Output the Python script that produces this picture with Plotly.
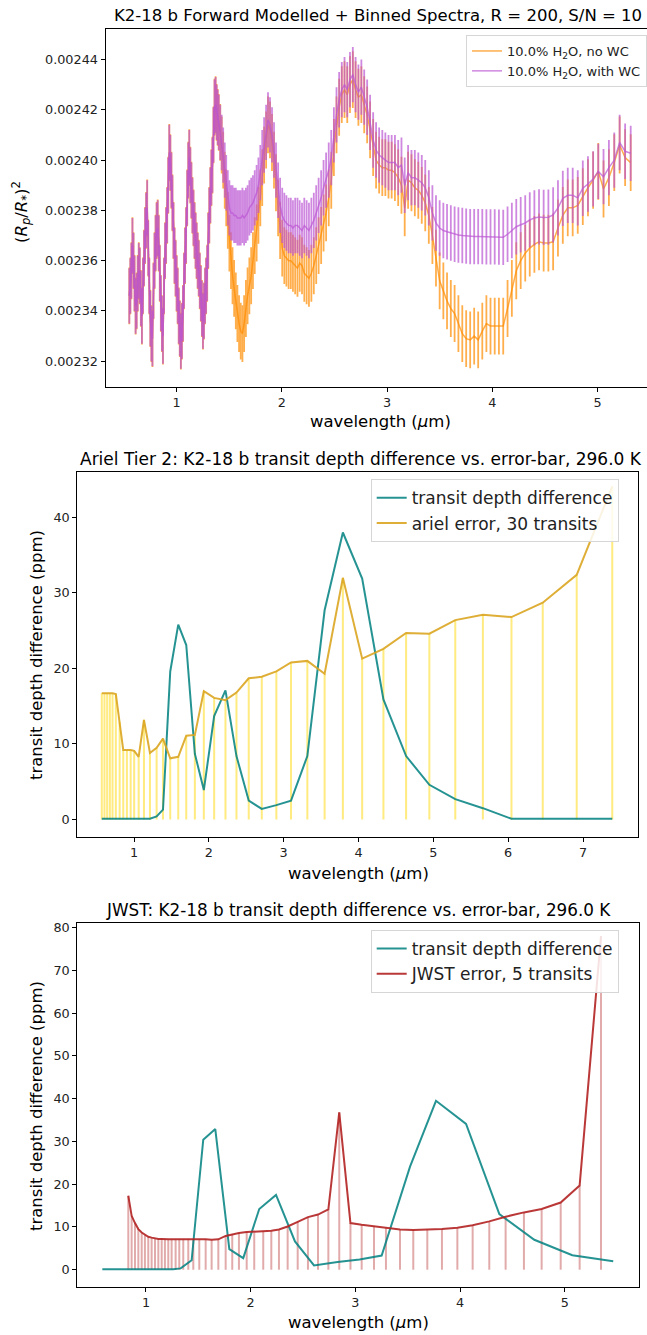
import plotly.graph_objects as go

W, H = 647, 1335

# ---------------- Top panel: forward-modelled binned spectra ----------------
# short-wavelength part (both models coincide), depth in units of 1e-6
wl_short = [0.55, 0.56, 0.57, 0.58, 0.59, 0.60, 0.61, 0.62, 0.63, 0.64,
            0.65, 0.66, 0.67, 0.68, 0.69, 0.70, 0.71, 0.72, 0.73, 0.74,
            0.75, 0.76, 0.77, 0.78, 0.79, 0.80, 0.81, 0.82, 0.83, 0.84,
            0.85, 0.86, 0.87, 0.88, 0.89, 0.90, 0.91, 0.92, 0.93, 0.94,
            0.95, 0.96, 0.97, 0.98, 0.99, 1.00, 1.01, 1.02, 1.03, 1.04,
            1.05, 1.06, 1.07, 1.08, 1.09, 1.10, 1.11, 1.12, 1.13, 1.14,
            1.15, 1.16, 1.17, 1.18, 1.19, 1.20, 1.21, 1.22, 1.23, 1.24,
            1.25, 1.26, 1.27, 1.28, 1.29, 1.30, 1.31, 1.32, 1.33, 1.34,
            1.35, 1.36, 1.37, 1.38, 1.39, 1.40]
depth_short = [2346, 2350, 2356, 2366, 2360, 2351, 2342, 2344, 2351, 2356,
               2354, 2345, 2338, 2350, 2361, 2370, 2376, 2381, 2365, 2350,
               2337, 2331, 2329, 2348, 2360, 2367, 2372, 2373, 2367, 2355,
               2343, 2335, 2330, 2350, 2364, 2370, 2378, 2390, 2403, 2399,
               2392, 2383, 2372, 2362, 2357, 2351, 2346, 2338, 2333, 2328,
               2332, 2339, 2352, 2362, 2370, 2385, 2396, 2401, 2394, 2388,
               2382, 2377, 2372, 2368, 2364, 2360, 2357, 2352, 2347, 2341,
               2336, 2340, 2346, 2350, 2355, 2368, 2378, 2386, 2393, 2398,
               2410, 2421, 2422, 2419, 2417, 2415]

wl_long = [1.414, 1.428, 1.442, 1.457, 1.471, 1.486, 1.501, 1.516, 1.531, 1.546,
           1.562, 1.577, 1.593, 1.609, 1.625, 1.641, 1.658, 1.674, 1.691, 1.708,
           1.725, 1.742, 1.760, 1.777, 1.795, 1.813, 1.831, 1.850, 1.868, 1.887,
           1.906, 1.925, 1.944, 1.964, 1.983, 2.003, 2.023, 2.043, 2.064, 2.085,
           2.105, 2.126, 2.148, 2.169, 2.191, 2.213, 2.235, 2.257, 2.280, 2.303,
           2.326, 2.349, 2.373, 2.396, 2.420, 2.445, 2.469, 2.494, 2.519, 2.544,
           2.569, 2.595, 2.621, 2.647, 2.674, 2.700, 2.727, 2.755, 2.782, 2.810,
           2.838, 2.867, 2.895, 2.924, 2.954, 2.983, 3.013, 3.043, 3.074, 3.105,
           3.136, 3.167, 3.199, 3.231, 3.263, 3.296, 3.329, 3.362, 3.396, 3.430,
           3.464, 3.499, 3.534, 3.569, 3.605, 3.641, 3.677, 3.714, 3.751, 3.789,
           3.827, 3.865, 3.904, 3.943, 3.982, 4.022, 4.062, 4.103, 4.144, 4.185,
           4.227, 4.269, 4.312, 4.355, 4.399, 4.443, 4.487, 4.532, 4.577, 4.623,
           4.669, 4.716, 4.763, 4.811, 4.859, 4.908, 4.957, 5.006, 5.056, 5.107,
           5.158, 5.209, 5.261, 5.314]

# with water clouds (purple)
wc_long = [2411, 2407, 2402, 2396, 2391, 2385, 2381, 2379, 2379, 2378,
           2378, 2377, 2377, 2377, 2378, 2377, 2378, 2379, 2381, 2382,
           2383, 2385, 2387, 2390, 2395, 2401, 2406, 2411, 2416, 2414,
           2410, 2404, 2396, 2388, 2382, 2378, 2376, 2375, 2374, 2374,
           2373, 2374, 2374, 2373, 2372, 2374, 2373, 2372, 2374, 2376,
           2379, 2382, 2385, 2389, 2392, 2396, 2401, 2410, 2418, 2424,
           2428, 2430, 2428, 2432, 2434, 2430, 2427, 2429, 2425, 2421,
           2415, 2408, 2404, 2402, 2401, 2400, 2399, 2399, 2399, 2397,
           2398, 2390, 2395, 2393, 2393, 2392, 2391, 2389, 2385, 2379,
           2375, 2373, 2372, 2371.5, 2371, 2370.5, 2370.2, 2370, 2369.8, 2369.6,
           2369.6, 2369.6, 2369.6, 2369.5, 2369.5, 2369.5, 2369.4, 2369.3, 2370.5, 2372,
           2373.5, 2374.3, 2375, 2376.2, 2377, 2377.4, 2377.2, 2377.3, 2378.2, 2381,
           2384.8, 2386, 2386, 2385, 2388.8, 2390.5, 2392.5, 2395.5, 2393.4, 2397,
           2400, 2407, 2403.5, 2402.7]

# no water clouds (orange)
nowc_long = [2411, 2406, 2400, 2392, 2385, 2376, 2367, 2360, 2354, 2349,
             2344, 2339, 2335, 2332, 2331, 2335, 2341, 2346, 2350, 2354,
             2360, 2366, 2371, 2378, 2385, 2393, 2402, 2408, 2414, 2412,
             2407, 2400, 2391, 2381, 2372, 2365, 2362, 2361, 2360, 2360,
             2359, 2358, 2357, 2359, 2358, 2355, 2354, 2353, 2355, 2358,
             2362, 2366, 2370, 2375, 2379, 2385, 2392, 2405, 2414, 2421,
             2426, 2428, 2426, 2430, 2432, 2428, 2425, 2426, 2422, 2418,
             2412, 2405, 2400, 2398, 2397, 2397, 2396, 2396, 2395, 2393,
             2390, 2381, 2392, 2391, 2389, 2388, 2386, 2383, 2378, 2370,
             2361, 2352, 2348, 2344, 2341, 2339, 2335, 2331, 2329, 2328.5,
             2330, 2328.5, 2332, 2335, 2334, 2334, 2334, 2334, 2341, 2349,
             2356, 2360, 2363, 2365, 2366.5, 2367.5, 2367, 2367, 2367.5, 2373,
             2378, 2381, 2381, 2382, 2385.5, 2389, 2392, 2395.5, 2388.5, 2393,
             2399, 2406, 2401, 2399]

err_nowc = 11.3   # 1e-6
err_wc = 11.0     # 1e-6

# ---------------- Middle panel: Ariel ----------------
ariel_wl = [0.569, 0.605, 0.641, 0.677, 0.713, 0.757, 0.808, 0.856, 0.905, 0.955,
            1.002, 1.062, 1.133, 1.213, 1.302, 1.387, 1.484, 1.591, 1.698, 1.813,
            1.933, 2.071, 2.222, 2.369, 2.533, 2.707, 2.902, 3.098, 3.316, 3.547,
            3.791, 4.049, 4.333, 4.636, 4.947, 5.293, 5.662, 6.044, 6.462, 6.916,
            7.391]
ariel_diff = [0.1, 0.1, 0.1, 0.1, 0.1, 0.1, 0.1, 0.1, 0.1, 0.1,
              0.1, 0.1, 0.1, 0.1, 0.4, 1.3, 19.6, 25.8, 23.1, 8.7,
              3.9, 13.7, 17.1, 8.4, 2.5, 1.4, 1.9, 2.5, 8.4, 27.7,
              38.0, 31.9, 15.9, 8.4, 4.6, 2.7, 1.5, 0.1, 0.1, 0.1,
              0.1]
ariel_err = [16.7, 16.7, 16.7, 16.7, 16.7, 16.6, 12.9, 9.2, 9.2, 9.2,
             9.1, 8.3, 13.2, 8.8, 9.5, 10.7, 8.1, 8.3, 11.1, 11.2,
             17.0, 16.1, 15.8, 16.8, 18.7, 18.9, 19.6, 20.8, 21.0, 19.3,
             32.0, 21.3, 22.6, 24.7, 24.6, 26.4, 27.1, 26.8, 28.7, 32.4,
             44.1]

# ---------------- Bottom panel: JWST ----------------
jwst_diff_wl = [0.583, 0.68, 0.78, 0.88, 0.98, 1.08, 1.18, 1.26, 1.331, 1.436,
                1.547, 1.662, 1.796, 1.929, 2.082, 2.242, 2.423, 2.605, 2.83, 3.04,
                3.251, 3.522, 3.770, 4.057, 4.375, 4.709, 5.072, 5.463]
jwst_diff = [0.1, 0.1, 0.1, 0.1, 0.1, 0.1, 0.1, 0.1, 0.3, 2.2,
             30.4, 32.9, 4.8, 2.7, 14.2, 17.5, 6.6, 1.0, 1.8, 2.4,
             3.3, 24.1, 39.5, 34.1, 13.0, 7.0, 3.4, 2.0]
jwst_err_wl = [0.831, 0.863, 0.895, 0.927, 0.959, 0.990, 1.022, 1.054, 1.086, 1.118,
               1.150, 1.181, 1.213, 1.245, 1.283, 1.318, 1.356, 1.404, 1.452, 1.509,
               1.570, 1.627, 1.691, 1.761, 1.824, 1.888, 1.962, 2.034, 2.120, 2.197,
               2.270, 2.353, 2.449, 2.547, 2.643, 2.742, 2.846, 2.953, 3.060, 3.178,
               3.292, 3.426, 3.553, 3.687, 3.827, 3.974, 4.120, 4.279, 4.435, 4.610,
               4.779, 4.961, 5.142, 5.346]
jwst_err = [17.3, 12.6, 10.9, 9.5, 8.7, 8.1, 7.7, 7.5, 7.3, 7.2,
            7.2, 7.1, 7.1, 7.1, 7.1, 7.1, 7.1, 7.2, 7.2, 7.1,
            7.1, 7.0, 7.1, 7.9, 8.3, 8.6, 8.8, 8.9, 9.0, 9.1,
            9.4, 10.1, 11.2, 12.3, 12.9, 14.1, 36.8, 10.9, 10.5, 10.2,
            9.8, 9.4, 9.3, 9.4, 9.5, 9.8, 10.4, 11.3, 12.4, 13.4,
            14.2, 15.7, 19.7, 78.0]

# ---------------- helpers ----------------
def px(x):
    return x / W


def py(y):
    return 1 - y / H


def vlines(xs, tops):
    vx, vy = [], []
    for x, t in zip(xs, tops):
        vx += [x, x, None]
        vy += [0, t, None]
    return vx, vy


FONT = "DejaVu Sans"
ORANGE = "rgba(255,140,0,0.7)"
PURPLE = "rgba(186,85,211,0.7)"
TEAL = "rgba(0,128,128,0.85)"
GOLD = "rgba(218,165,32,0.9)"
GOLD_V = "rgba(255,215,0,0.5)"
RED = "rgba(178,34,34,0.9)"
RED_V = "rgba(178,34,34,0.38)"

wl_top = wl_short + wl_long
nowc = [v * 1e-6 for v in depth_short + nowc_long]
wc = [v * 1e-6 for v in depth_short + wc_long]

fig = go.Figure()

fig.add_trace(go.Scatter(
    x=wl_top, y=nowc, mode="lines", name="10.0% H<sub>2</sub>O, no WC",
    line=dict(color=ORANGE, width=1.5),
    error_y=dict(type="constant", value=err_nowc * 1e-6, color=ORANGE,
                 thickness=1.8, width=0),
    xaxis="x", yaxis="y", legend="legend"))
fig.add_trace(go.Scatter(
    x=wl_top, y=wc, mode="lines", name="10.0% H<sub>2</sub>O, with WC",
    line=dict(color=PURPLE, width=1.5),
    error_y=dict(type="constant", value=err_wc * 1e-6, color=PURPLE,
                 thickness=1.8, width=0),
    xaxis="x", yaxis="y", legend="legend"))

vx, vy = vlines(ariel_wl, ariel_err)
fig.add_trace(go.Scatter(x=vx, y=vy, mode="lines", line=dict(color=GOLD_V, width=2),
                         showlegend=False, hoverinfo="skip", xaxis="x2", yaxis="y2"))
fig.add_trace(go.Scatter(x=ariel_wl, y=ariel_diff, mode="lines", name="transit depth difference",
                         line=dict(color=TEAL, width=2), xaxis="x2", yaxis="y2", legend="legend2"))
fig.add_trace(go.Scatter(x=ariel_wl, y=ariel_err, mode="lines", name="ariel error, 30 transits",
                         line=dict(color=GOLD, width=2), xaxis="x2", yaxis="y2", legend="legend2"))

vx, vy = vlines(jwst_err_wl, jwst_err)
fig.add_trace(go.Scatter(x=vx, y=vy, mode="lines", line=dict(color=RED_V, width=2),
                         showlegend=False, hoverinfo="skip", xaxis="x3", yaxis="y3"))
fig.add_trace(go.Scatter(x=jwst_diff_wl, y=jwst_diff, mode="lines", name="transit depth difference",
                         line=dict(color=TEAL, width=2), xaxis="x3", yaxis="y3", legend="legend3"))
fig.add_trace(go.Scatter(x=jwst_err_wl, y=jwst_err, mode="lines", name="JWST error, 5 transits",
                         line=dict(color=RED, width=2), xaxis="x3", yaxis="y3", legend="legend3"))

axis_common = dict(showgrid=False, zeroline=False, showline=True, linecolor="black",
                   linewidth=1, ticks="outside", ticklen=4, tickwidth=1, tickcolor="black",
                   tickfont=dict(family=FONT, size=12.8, color="#222"))

top_y_ticks = [0.00232, 0.00234, 0.00236, 0.00238, 0.00240, 0.00242, 0.00244]

fig.update_layout(
    width=W, height=H, margin=dict(l=0, r=0, t=0, b=0, autoexpand=False),
    paper_bgcolor="white", plot_bgcolor="white",
    font=dict(family=FONT, color="black"),
    xaxis=dict(domain=[px(105.5), 1.0], range=[0.324, 5.469], anchor="y",
               tickvals=[1, 2, 3, 4, 5], mirror=True, **axis_common),
    yaxis=dict(domain=[py(386.7), py(29.3)], range=[0.0023099, 0.0024520], anchor="x",
               tickvals=top_y_ticks, tickformat=".5f", mirror=False, **axis_common),
    xaxis2=dict(domain=[px(77.3), px(638.3)], range=[0.242, 7.739], anchor="y2",
                tickvals=[1, 2, 3, 4, 5, 6, 7], mirror=True, **axis_common),
    yaxis2=dict(domain=[py(836.5), py(471.7)], range=[-2.25, 46.05], anchor="x2",
                tickvals=[0, 10, 20, 30, 40], mirror=True, **axis_common),
    xaxis3=dict(domain=[px(77.3), px(639)], range=[0.344, 5.709], anchor="y3",
                tickvals=[1, 2, 3, 4, 5], mirror=True, **axis_common),
    yaxis3=dict(domain=[py(1286.5), py(922.5)], range=[-3.93, 81.2], anchor="x3",
                tickvals=[0, 10, 20, 30, 40, 50, 60, 70, 80], mirror=True, **axis_common),
    legend=dict(x=px(466), y=py(35), xanchor="left", yanchor="top",
                bgcolor="rgba(255,255,255,0.85)", bordercolor="#d6d6d6", borderwidth=1,
                font=dict(family=FONT, size=13, color="#222"), tracegroupgap=0),
    legend2=dict(x=px(370.7), y=py(479.3), xanchor="left", yanchor="top",
                 bgcolor="rgba(255,255,255,0.85)", bordercolor="#d6d6d6", borderwidth=1,
                 font=dict(family=FONT, size=17, color="#222")),
    legend3=dict(x=px(370.7), y=py(930), xanchor="left", yanchor="top",
                 bgcolor="rgba(255,255,255,0.85)", bordercolor="#d6d6d6", borderwidth=1,
                 font=dict(family=FONT, size=17, color="#222")),
)

annos = [
    ("K2-18 b Forward Modelled + Binned Spectra, R = 200, S/N = 10", 378, 16, 16.5, 0),
    ("Ariel Tier 2: K2-18 b transit depth difference vs. error-bar, 296.0 K", 361, 458.5, 17, 0),
    ("JWST: K2-18 b transit depth difference vs. error-bar, 296.0 K", 358, 909.5, 16.8, 0),
    ("wavelength (<i>μ</i>m)", 380, 421, 16.5, 0),
    ("wavelength (<i>μ</i>m)", 358, 873, 16.5, 0),
    ("wavelength (<i>μ</i>m)", 358, 1322, 16.5, 0),
    ("(<i>R<sub>p</sub></i>/<i>R<sub>*</sub></i>)<sup>2</sup>", 21, 212, 16.5, -90),
    ("transit depth difference (ppm)", 36, 655, 16.5, -90),
    ("transit depth difference (ppm)", 36, 1106, 16.5, -90),
]
for text, x, y, size, ang in annos:
    fig.add_annotation(text=text, x=px(x), y=py(y), xref="paper", yref="paper",
                       xanchor="center", yanchor="middle", showarrow=False,
                       textangle=ang, font=dict(family=FONT, size=size, color="black"))

fig.write_html("out.html", config={"displayModeBar": False},
               post_script="document.body.style.margin='0';document.body.style.overflow='hidden';")
